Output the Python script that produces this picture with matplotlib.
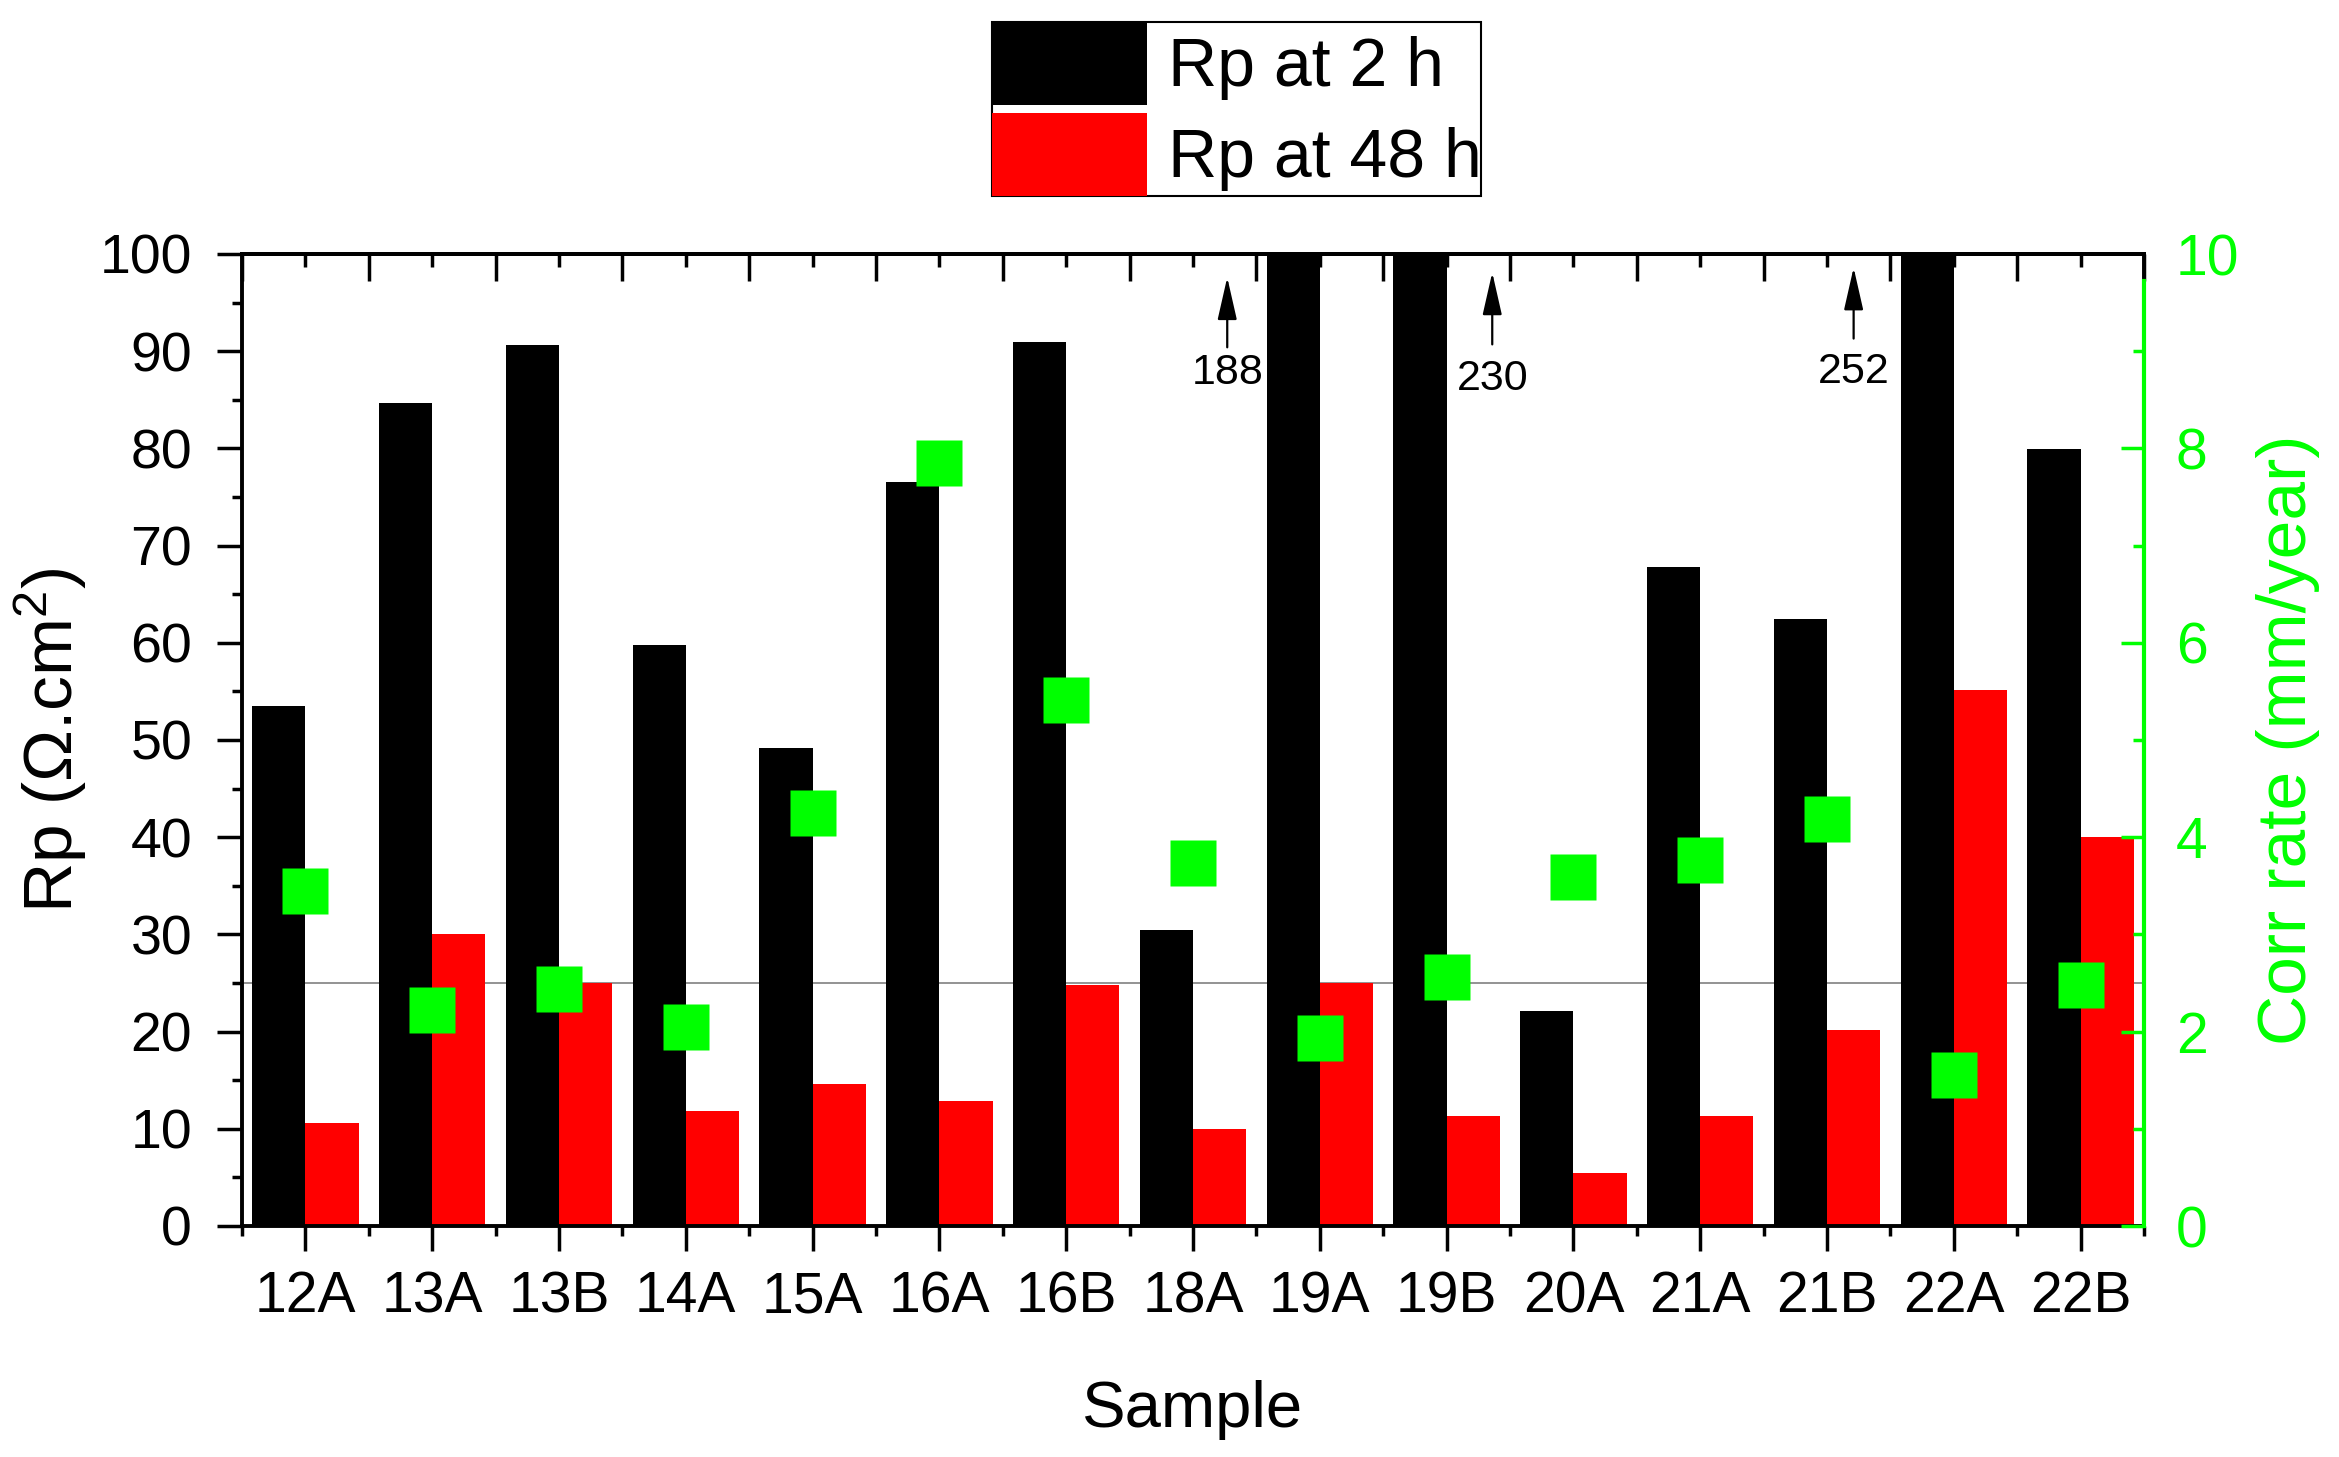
import matplotlib
matplotlib.use('Agg')
import matplotlib.pyplot as plt
from matplotlib.patches import Patch
from matplotlib.ticker import FixedLocator
import numpy as np

plt.rcParams['font.family'] = ['Liberation Sans', 'DejaVu Sans']
plt.rcParams['mathtext.fontset'] = 'custom'
plt.rcParams['mathtext.rm'] = 'Liberation Sans'
plt.rcParams['mathtext.it'] = 'Liberation Sans:italic'
plt.rcParams['mathtext.bf'] = 'Liberation Sans:bold'

GREEN = '#00FF00'

# ---------------- data ----------------
samples = ['12A', '13A', '13B', '14A', '15A', '16A', '16B', '18A',
           '19A', '19B', '20A', '21A', '21B', '22A', '22B']
rp_2h = [53.5, 84.7, 90.6, 59.8, 49.2, 76.5, 90.9, 30.5,
         188, 230, 22.1, 67.8, 62.4, 252, 79.9]
rp_48h = [10.6, 30.0, 25.0, 11.8, 14.6, 12.9, 24.8, 10.0,
          25.0, 11.3, 5.5, 11.3, 20.2, 55.1, 40.0]
corr_rate = [3.45, 2.22, 2.44, 2.05, 4.25, 7.85, 5.41, 3.73,
             1.93, 2.56, 3.59, 3.77, 4.19, 1.55, 2.48]
offscale_labels = ['188', '230', '252']
threshold = 25
yticks_left = [0, 10, 20, 30, 40, 50, 60, 70, 80, 90, 100]
yticks_right = [0, 2, 4, 6, 8, 10]

# annotation placement (data coords)
arrow_x = [7.27, 9.36, 12.21]
arrow_tip = [97.6, 98.1, 98.6]
arrow_tail = [90.4, 90.7, 91.3]
label_base = [86.6, 86.0, 86.7]

W, H = 2339, 1457
fig = plt.figure(figsize=(W / 100, H / 100), dpi=100)
ax = fig.add_axes([242 / W, (H - 1226) / H, (2144 - 242) / W, (1226 - 254) / H])

x = np.arange(len(samples))
bw = 0.42
ax.bar(x - bw, rp_2h, width=bw, align='edge', color='black', zorder=2)
ax.bar(x, rp_48h, width=bw, align='edge', color='#FF0000', zorder=2)
ax.axhline(threshold, color='#808080', lw=1.2, zorder=1)

ax.set_xlim(-0.5, len(samples) - 0.5)
ax.set_ylim(0, 100)
ax.set_xticks(x)
ax.set_xticklabels(samples)
ax.set_xticks(np.arange(-0.5, len(samples), 1.0), minor=True)
ax.yaxis.set_major_locator(FixedLocator(yticks_left))
ax.yaxis.set_minor_locator(FixedLocator(np.arange(5, 100, 10)))

ax.tick_params(axis='y', which='major', direction='out', length=18, width=2.5,
               pad=18, labelsize=40)
ax.tick_params(axis='y', which='minor', direction='out', length=7, width=2.5)
ax.tick_params(axis='x', which='major', direction='out', length=18, width=2.5,
               pad=14, labelsize=41)
ax.tick_params(axis='x', which='minor', direction='out', length=7, width=2.5)
for s in ax.spines.values():
    s.set_linewidth(2.8)
    s.set_zorder(3)

ax.set_xlabel('Sample', fontsize=47, labelpad=40)
ax.set_ylabel('Rp (Ω.cm$^{\\mathregular{2}}$)', fontsize=50, labelpad=8)

# top mirrored ticks (inward)
sec = ax.secondary_xaxis('top')
sec.set_xticks(x)
sec.set_xticks(np.arange(-0.5, len(samples), 1.0), minor=True)
sec.set_xticklabels([])
sec.tick_params(axis='x', which='major', direction='in', length=9.4, width=2.5)
sec.tick_params(axis='x', which='minor', direction='in', length=19.4, width=2.5)
sec.spines['top'].set_linewidth(2.8)

# off-scale annotations
for lab, ax_x, tip, tail, base in zip(offscale_labels, arrow_x, arrow_tip, arrow_tail, label_base):
    ax.annotate('', xy=(ax_x, tip), xytext=(ax_x, tail),
                arrowprops=dict(arrowstyle='-|>,head_length=1.1,head_width=0.25',
                                mutation_scale=24, lw=1.6, color='black',
                                shrinkA=0, shrinkB=0), zorder=4)
    ax.text(ax_x, base, lab, ha='center', va='baseline', fontsize=31, zorder=4)

# right axis: corrosion rate
tw = ax.twinx()
tw.set_ylim(0, 10)
tw.plot(x, corr_rate, 's', ms=33, color=GREEN, mec='none', zorder=5, clip_on=False)
tw.yaxis.set_major_locator(FixedLocator(yticks_right))
tw.yaxis.set_minor_locator(FixedLocator([1, 3, 5, 7, 9]))
tw.tick_params(axis='y', which='major', direction='in', length=16.5, width=2.5,
               color=GREEN, labelcolor=GREEN, pad=23, labelsize=41)
tw.tick_params(axis='y', which='minor', direction='in', length=8, width=2.5, color=GREEN)
for k in ['top', 'left', 'bottom']:
    tw.spines[k].set_visible(False)
tw.spines['right'].set_color(GREEN)
tw.spines['right'].set_linewidth(3.0)
tw.spines['right'].set_bounds(0, 9.72)
ticks = tw.yaxis.get_major_ticks()
ticks[-1].tick2line.set_visible(False)
tw.set_ylabel('Corr rate (mm/year)', color=GREEN, fontsize=50, labelpad=12)

# legend
handles = [Patch(facecolor='black', edgecolor='none'),
           Patch(facecolor='#FF0000', edgecolor='none')]
leg = fig.legend(handles, ['Rp at 2 h', 'Rp at 48 h'], loc='upper left',
                 bbox_to_anchor=(992 / W, 1 - 22 / H), bbox_transform=fig.transFigure,
                 borderaxespad=0, borderpad=0, handlelength=2.28, handleheight=1.5,
                 handletextpad=0.3, labelspacing=0.12, frameon=True, fancybox=False,
                 edgecolor='black', framealpha=1, fontsize=49)
leg.get_frame().set_linewidth(1.5)

fig.savefig('out.png', dpi=100)
